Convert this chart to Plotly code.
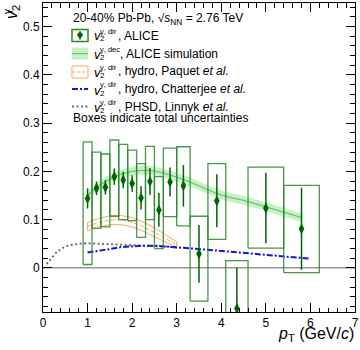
import plotly.graph_objects as go

# ---------------- data ----------------
pt      = [1.0, 1.2, 1.4, 1.6, 1.8, 2.0, 2.2, 2.4, 2.6, 2.85, 3.15, 3.5, 3.9, 4.35, 5.0, 5.8]
bin_lo  = [0.9, 1.1, 1.3, 1.5, 1.7, 1.9, 2.1, 2.3, 2.5, 2.7, 3.0, 3.3, 3.7, 4.1, 4.6, 5.4]
bin_hi  = [1.1, 1.3, 1.5, 1.7, 1.9, 2.1, 2.3, 2.5, 2.7, 3.0, 3.3, 3.7, 4.1, 4.6, 5.4, 6.2]
v2_dir  = [0.144, 0.165, 0.167, 0.189, 0.182, 0.175, 0.145, 0.179, 0.120, 0.178, 0.170, 0.029, 0.139, -0.084, 0.124, 0.081]
stat    = [0.021, 0.014, 0.015, 0.017, 0.017, 0.017, 0.024, 0.028, 0.035, 0.030, 0.043, 0.060, 0.055, 0.084, 0.073, 0.085]
box_lo  = [0.007, 0.082, 0.085, 0.107, 0.100, 0.098, 0.063, 0.100, 0.040, 0.106, 0.087, -0.069, 0.059, -0.18, 0.041, -0.010]
box_hi  = [0.261, 0.240, 0.236, 0.265, 0.256, 0.244, 0.216, 0.252, 0.189, 0.248, 0.251, 0.107, 0.216, 0.015, 0.209, 0.171]

sim_pt  = [1.0, 1.2, 1.4, 1.6, 1.8, 2.0, 2.2, 2.4, 2.6, 2.8, 3.0, 3.3, 3.6, 3.9, 4.2, 4.5, 4.8, 5.1, 5.4, 5.8]
sim_v2  = [0.150, 0.166, 0.179, 0.189, 0.196, 0.200, 0.202, 0.202, 0.199, 0.194, 0.188, 0.178, 0.166, 0.154, 0.146, 0.140, 0.132, 0.124, 0.116, 0.104]
sim_err = 0.009

paq_pt  = [1.0, 1.2, 1.4, 1.6, 1.8, 2.0, 2.2, 2.4, 2.6, 2.8, 3.0]
paq_hi  = [0.094, 0.101, 0.106, 0.109, 0.108, 0.104, 0.097, 0.088, 0.077, 0.066, 0.054]
paq_lo  = [0.077, 0.084, 0.088, 0.090, 0.089, 0.085, 0.078, 0.069, 0.060, 0.051, 0.043]

cha_pt  = [1.0, 1.25, 1.5, 1.75, 2.0, 2.25, 2.5, 3.0, 3.5, 4.0, 4.5, 5.0, 5.5, 6.0]
cha_v2  = [0.032, 0.035, 0.039, 0.043, 0.045, 0.046, 0.046, 0.043, 0.039, 0.035, 0.031, 0.027, 0.023, 0.019]

phsd_pt = [0.08, 0.2, 0.3, 0.4, 0.5, 0.6, 0.8, 1.0, 1.25, 1.5, 2.0, 2.5, 3.0]
phsd_v2 = [0.008, 0.022, 0.032, 0.039, 0.044, 0.047, 0.050, 0.051, 0.050, 0.049, 0.047, 0.045, 0.043]

x_range = [0, 7]
y_range = [-0.0915, 0.549]
y_ticks = [0, 0.1, 0.2, 0.3, 0.4, 0.5]
y_tick_text = ["0", "0.1", "0.2", "0.3", "0.4", "0.5"]

FONT = "Liberation Sans, Arial, Helvetica, sans-serif"
DKGREEN = "rgb(0,100,0)"
BOXGREEN = "rgba(40,135,40,0.85)"
ORANGE = "rgb(250,170,100)"
BLUE = "rgb(20,20,220)"
GREY = "rgb(110,110,110)"

fig = go.Figure()

# simulation band
fig.add_trace(go.Scatter(
    x=sim_pt + sim_pt[::-1],
    y=[v + sim_err for v in sim_v2] + [v - sim_err for v in sim_v2][::-1],
    fill="toself", fillcolor="rgba(120,230,120,0.45)", line=dict(width=0),
    mode="lines", hoverinfo="skip", showlegend=False))
fig.add_trace(go.Scatter(x=sim_pt, y=sim_v2, mode="lines",
                         line=dict(color="rgba(130,175,130,0.9)", width=1.3),
                         showlegend=False))

# Paquet hydro band (outlined)
fig.add_trace(go.Scatter(
    x=paq_pt + paq_pt[::-1] + [paq_pt[0]],
    y=paq_hi + paq_lo[::-1] + [paq_hi[0]],
    mode="lines", line=dict(color=ORANGE, width=1), showlegend=False))
fig.add_trace(go.Scatter(
    x=paq_pt, y=[(a + b) / 2 for a, b in zip(paq_hi, paq_lo)],
    mode="lines", line=dict(color=ORANGE, width=1, dash="4px,2px"), showlegend=False))

# PHSD
fig.add_trace(go.Scatter(x=phsd_pt, y=phsd_v2, mode="lines",
                         line=dict(color=GREY, width=2, dash="2px,2.5px"), showlegend=False))
# Chatterjee
fig.add_trace(go.Scatter(x=cha_pt, y=cha_v2, mode="lines",
                         line=dict(color=BLUE, width=2, dash="6px,2px,2px,2px"), showlegend=False))

# zero line
fig.add_trace(go.Scatter(x=x_range, y=[0, 0], mode="lines",
                         line=dict(color="rgb(150,150,150)", width=1.5), showlegend=False))

# uncertainty boxes
bx, by = [], []
for lo, hi, yl, yh in zip(bin_lo, bin_hi, box_lo, box_hi):
    bx += [lo, hi, hi, lo, lo, None]
    by += [yl, yl, yh, yh, yl, None]
fig.add_trace(go.Scatter(x=bx, y=by, mode="lines",
                         line=dict(color=BOXGREEN, width=1.3), showlegend=False))

# data points
fig.add_trace(go.Scatter(
    x=pt, y=v2_dir, mode="markers",
    marker=dict(symbol="diamond-tall", size=8, color=DKGREEN),
    error_y=dict(type="data", array=stat, width=0, thickness=1.5, color=DKGREEN),
    showlegend=False))

# ---------------- layout ----------------
L, R, T, B = 43, 5, 3, 38
W, H = 360, 350
PW, PH = W - L - R, H - T - B


def PX(x):
    return (x - L) / PW


def PY(y):
    return (H - B - y) / PH


ann = []
shapes = []
LEG = 12


def text(x, y, s, size=LEG, anchor="left", yanchor="middle", angle=0):
    ann.append(dict(x=PX(x), y=PY(y), xref="paper", yref="paper", text=s, showarrow=False,
                    xanchor=anchor, yanchor=yanchor, textangle=angle,
                    font=dict(family=FONT, size=size, color="black")))


# header line
text(71, 19.5, "20-40% Pb-Pb, √<i>s</i><sub>NN</sub> = 2.76 TeV")

entries = [
    (35.5, "dir", ", ALICE"),
    (53.5, "dec", ", ALICE simulation"),
    (71.5, "dir", ", hydro, Paquet <i>et al.</i>"),
    (89.5, "dir", ", hydro, Chatterjee <i>et al.</i>"),
    (107.0, "dir", ", PHSD, Linnyk <i>et al.</i>"),
]
for yc, sup, rest in entries:
    text(92, yc + 0.5, "<i>v</i>", size=13)
    text(98, yc + 3.5, "2", size=8)
    text(98, yc - 4.5, "γ, " + sup, size=7.5)
    text(115.5 if sup == "dir" else 117.5, yc, rest)

text(71, 118.5, "Boxes indicate total uncertainties")


# legend symbols
def rect(x0, y0, x1, y1, line, fill="rgba(0,0,0,0)", dash="solid", width=1.2):
    shapes.append(dict(type="rect", xref="paper", yref="paper",
                       x0=PX(x0), x1=PX(x1), y0=PY(y0), y1=PY(y1),
                       line=dict(color=line, width=width, dash=dash), fillcolor=fill))


def hline(x0, x1, y, color, width, dash="solid"):
    shapes.append(dict(type="line", xref="paper", yref="paper",
                       x0=PX(x0), x1=PX(x1), y0=PY(y), y1=PY(y),
                       line=dict(color=color, width=width, dash=dash)))


rect(72, 29.5, 88, 41.5, "rgb(40,135,40)", width=1.5)
shapes.append(dict(type="line", xref="paper", yref="paper", x0=PX(80), x1=PX(80),
                   y0=PY(31.5), y1=PY(39.5), line=dict(color=DKGREEN, width=1.5)))
ann.append(dict(x=PX(80), y=PY(35.5), xref="paper", yref="paper", text="♦", showarrow=False,
                font=dict(size=11, color=DKGREEN, family="DejaVu Sans"), xanchor="center", yanchor="middle"))
rect(72, 47.5, 88, 59.5, "rgba(0,0,0,0)", fill="rgba(120,230,120,0.45)", width=0)
hline(72, 88, 53.5, "rgba(130,175,130,0.9)", 1.3)
rect(72, 66, 88, 78, ORANGE, width=1)
hline(72, 88, 72, ORANGE, 1, "3px,2px")
hline(72, 88, 89, BLUE, 2, "6px,2px,2px,2px")
hline(72, 88, 106.5, GREY, 2, "2px,2.5px")

# axis titles
ann.append(dict(x=PX(12), y=PY(3), xref="paper", yref="paper",
                text="<i>v</i><sub>2</sub>", showarrow=False, textangle=-90,
                xanchor="center", yanchor="top",
                font=dict(family=FONT, size=16, color="black")))
ann.append(dict(x=PX(8), y=PY(12), xref="paper", yref="paper",
                text="γ", showarrow=False, textangle=-90,
                xanchor="center", yanchor="middle",
                font=dict(family=FONT, size=10, color="black")))
ann.append(dict(x=PX(356), y=PY(334), xref="paper", yref="paper",
                text="<i>p</i><sub>T</sub> (GeV/<i>c</i>)", showarrow=False,
                xanchor="right", yanchor="middle",
                font=dict(family=FONT, size=16, color="black")))

axis_common = dict(showgrid=False, zeroline=False, showline=True, linecolor="black",
                   linewidth=1, mirror="allticks", ticks="inside", tickcolor="black",
                   tickwidth=1, ticklen=9, automargin=False,
                   tickfont=dict(family=FONT, size=12, color="black"))

fig.update_layout(
    width=W, height=H,
    margin=dict(l=L, r=R, t=T, b=B, autoexpand=False),
    paper_bgcolor="white", plot_bgcolor="white",
    showlegend=False,
    xaxis=dict(range=x_range, dtick=1, tick0=0,
               minor=dict(dtick=0.2, ticklen=4.5, tickcolor="black", ticks="inside"),
               **axis_common),
    yaxis=dict(range=y_range, tickvals=y_ticks, ticktext=y_tick_text,
               minor=dict(dtick=0.02, tick0=0, ticklen=5, tickcolor="black", ticks="inside"),
               **axis_common),
    annotations=ann, shapes=shapes,
)

fig.write_html("out.html", config={"displayModeBar": False},
               post_script="document.body.style.margin='0';document.body.style.padding='0';")
